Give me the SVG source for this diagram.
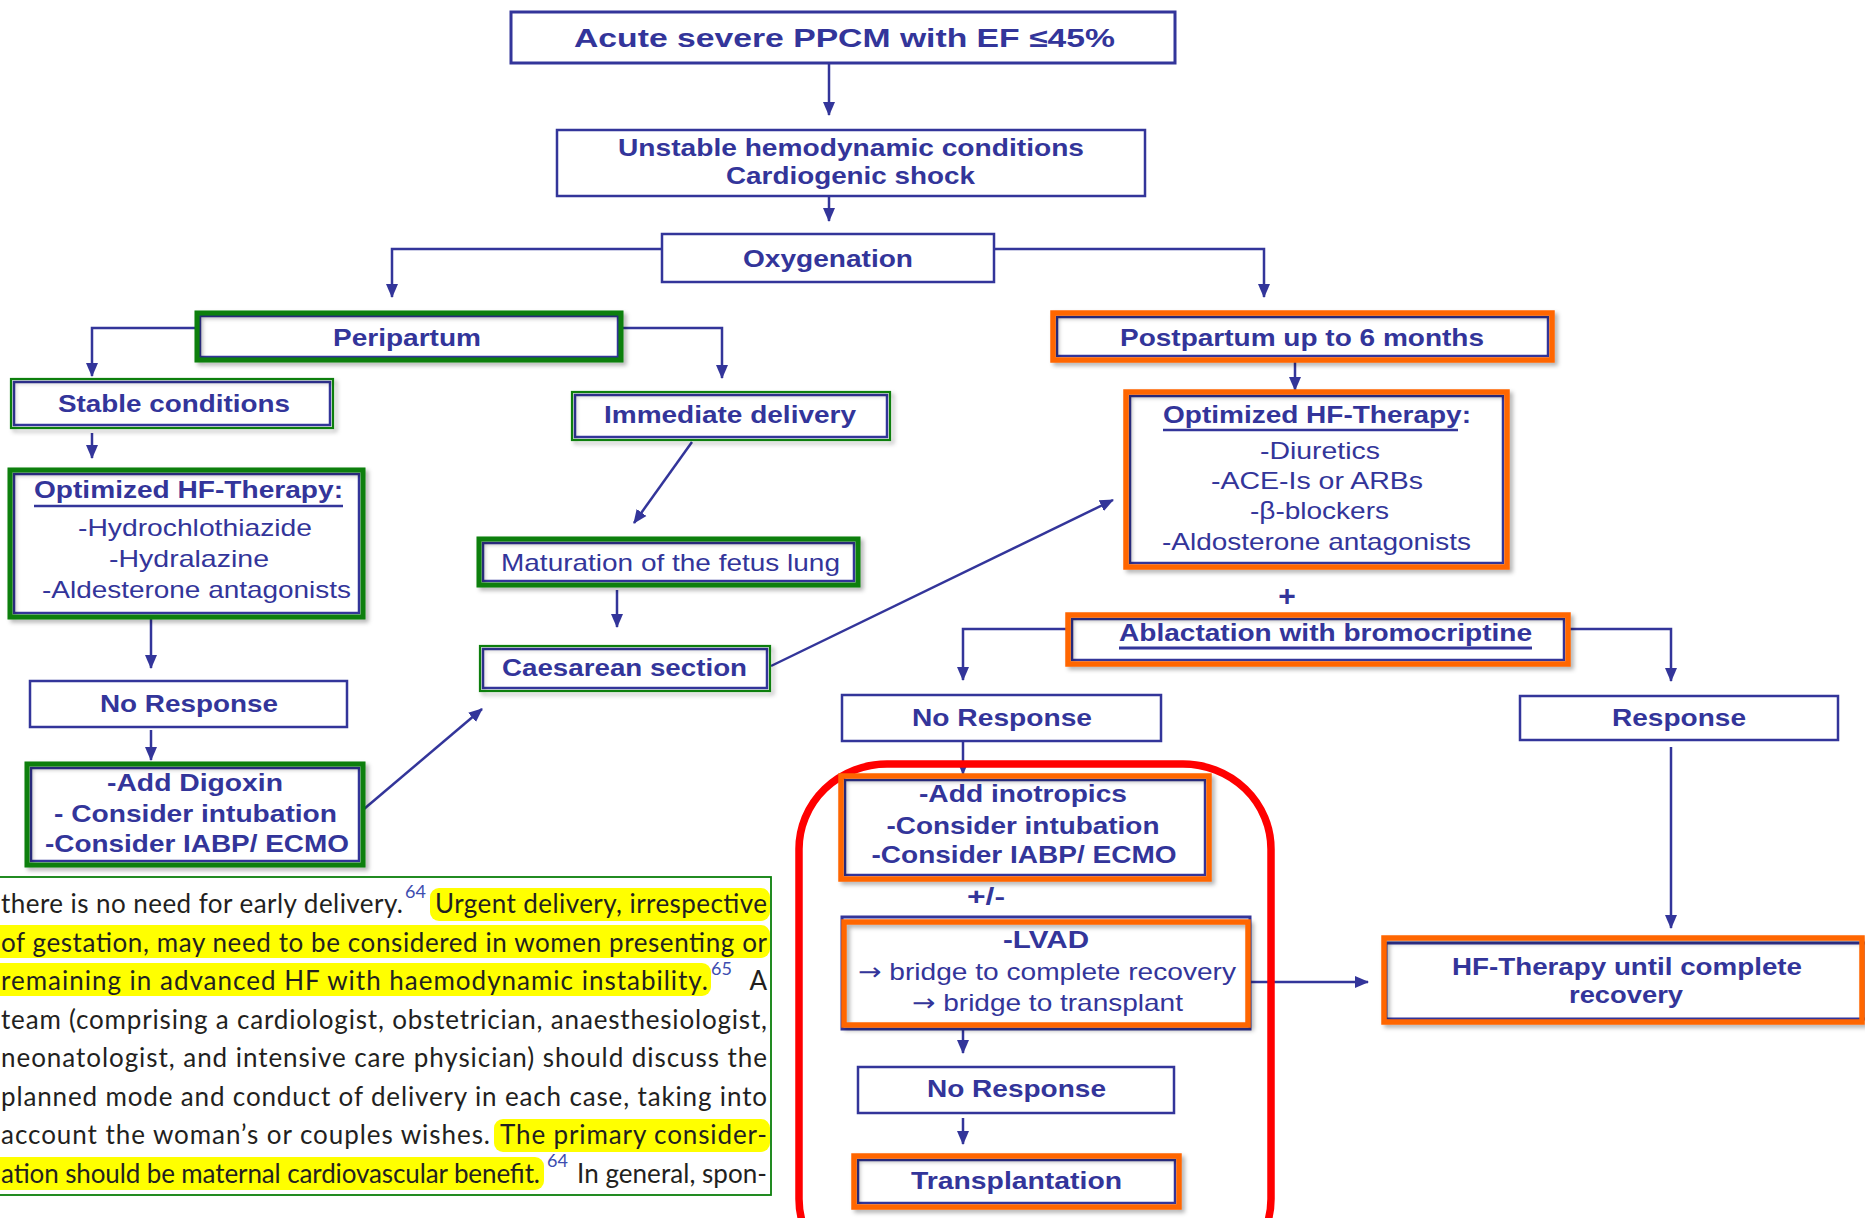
<svg xmlns="http://www.w3.org/2000/svg" width="1865" height="1218" viewBox="0 0 1865 1218">
<defs>
<marker id="ah" markerUnits="userSpaceOnUse" markerWidth="14" markerHeight="14" refX="13" refY="7" orient="auto">
<path d="M0,1 L14,7 L0,13 z" fill="#33359A"/>
</marker>
<filter id="sh" x="-5%" y="-10%" width="115%" height="130%">
<feDropShadow dx="3" dy="3" stdDeviation="2" flood-color="#000" flood-opacity="0.3"/>
</filter>
<style>
.b{fill:#fff;stroke:#33359A;stroke-width:2.5}
.g{fill:none;stroke:#0A7F0A;stroke-width:5}
.gt{fill:none;stroke:#0A7F0A;stroke-width:2.2}
.o{fill:none;stroke:#FF6600;stroke-width:5.5}
.c{fill:none;stroke:#33359A;stroke-width:2.5;marker-end:url(#ah)}
.ul{stroke:#33359A;stroke-width:2.5}
.t{font-family:"Liberation Sans",Arial,sans-serif;font-weight:bold;font-size:24px;fill:#33359A;text-anchor:middle}
.n{font-weight:normal}
.ar{font-family:"DejaVu Sans",sans-serif;font-size:24px}
.p{font-family:Lato,"Open Sans",sans-serif;font-size:26px;fill:#231F20}
.s{font-family:Lato,"Open Sans",sans-serif;font-size:18px;fill:#3D4DB0}
.hl{fill:#FFFF00}
</style>
</defs>
<rect width="1865" height="1218" fill="#fff"/>

<g id="connectors">
<path class="c" d="M829,63 V115"/>
<path class="c" d="M829,196 V221"/>
<path class="c" d="M662,249 H392 V297"/>
<path class="c" d="M994,249 H1264 V297"/>
<path class="c" d="M196,328 H92 V376"/>
<path class="c" d="M621,328 H722 V378"/>
<path class="c" d="M92,433 V458"/>
<path class="c" d="M151,617 V668"/>
<path class="c" d="M151,730 V760"/>
<path class="c" d="M364,809 L482,709"/>
<path class="c" d="M692,442 L634,523"/>
<path class="c" d="M617,590 V627"/>
<path class="c" d="M771,666 L1113,500"/>
<path class="c" d="M1295,361 V390"/>
<path class="c" d="M1068,629 H963 V680"/>
<path class="c" d="M1568,629 H1671 V681"/>
<path class="c" d="M963,742 V774"/>
<path class="c" d="M963,1025 V1053"/>
<path class="c" d="M963,1118 V1144"/>
<path class="c" d="M1249,982 H1368"/>
<path class="c" d="M1671,747 V928"/>
</g>

<g id="highlight-region">
<rect x="799" y="764" width="472" height="520" rx="88" ry="85" fill="none" stroke="#FF0000" stroke-width="7.5"/>
</g>

<g id="n-title">
<rect class="b" x="511" y="12" width="664" height="51" style="stroke-width:3"/>
<text class="t" x="844.5" y="47" style="font-size:26px" textLength="541" lengthAdjust="spacingAndGlyphs">Acute severe PPCM with EF ≤45%</text>
</g>
<g id="n-unstable">
<rect class="b" x="557" y="130" width="588" height="66"/>
<text class="t" x="851" y="156" textLength="466" lengthAdjust="spacingAndGlyphs">Unstable hemodynamic conditions</text>
<text class="t" x="850.5" y="184" textLength="249" lengthAdjust="spacingAndGlyphs">Cardiogenic shock</text>
</g>
<g id="n-oxygenation">
<rect class="b" x="662" y="234" width="332" height="48"/>
<text class="t" x="828" y="267" textLength="170" lengthAdjust="spacingAndGlyphs">Oxygenation</text>
</g>

<g id="n-peripartum">
<rect class="b" x="200" y="316" width="418" height="41"/>
<rect class="g" x="197" y="313" width="424" height="47" filter="url(#sh)"/>
<text class="t" x="407" y="346" textLength="148" lengthAdjust="spacingAndGlyphs">Peripartum</text>
</g>
<g id="n-stable">
<rect class="b" x="14" y="382" width="316" height="43"/>
<rect class="gt" x="11" y="379" width="322" height="49" filter="url(#sh)"/>
<text class="t" x="174" y="412" textLength="232" lengthAdjust="spacingAndGlyphs">Stable conditions</text>
</g>
<g id="n-hf-left">
<rect class="b" x="14" y="474" width="345" height="139"/>
<rect class="g" x="10" y="470" width="353" height="147" filter="url(#sh)"/>
<text class="t" x="188.5" y="498" textLength="309" lengthAdjust="spacingAndGlyphs">Optimized HF-Therapy:</text>
<line class="ul" x1="34" y1="506" x2="343" y2="506"/>
<text class="t n" x="195" y="536" textLength="234" lengthAdjust="spacingAndGlyphs">-Hydrochlothiazide</text>
<text class="t n" x="189" y="567" textLength="160" lengthAdjust="spacingAndGlyphs">-Hydralazine</text>
<text class="t n" x="196.5" y="598" textLength="309" lengthAdjust="spacingAndGlyphs">-Aldesterone antagonists</text>
</g>
<g id="n-noresp-left">
<rect class="b" x="30" y="681" width="317" height="46"/>
<text class="t" x="189" y="712" textLength="178" lengthAdjust="spacingAndGlyphs">No Response</text>
</g>
<g id="n-digoxin">
<rect class="b" x="31" y="768" width="328" height="93"/>
<rect class="g" x="27" y="764" width="336" height="101" filter="url(#sh)"/>
<text class="t" x="195" y="791" textLength="176" lengthAdjust="spacingAndGlyphs">-Add Digoxin</text>
<text class="t" x="195.5" y="822" textLength="283" lengthAdjust="spacingAndGlyphs">- Consider intubation</text>
<text class="t" x="197" y="852" textLength="304" lengthAdjust="spacingAndGlyphs">-Consider IABP/ ECMO</text>
</g>
<g id="n-immediate">
<rect class="b" x="575" y="395" width="312" height="42"/>
<rect class="gt" x="572" y="392" width="318" height="48" filter="url(#sh)"/>
<text class="t" x="730" y="423" textLength="252" lengthAdjust="spacingAndGlyphs">Immediate delivery</text>
</g>
<g id="n-maturation">
<rect class="b" x="483" y="543" width="371" height="38"/>
<rect class="g" x="479" y="539" width="379" height="46" filter="url(#sh)"/>
<text class="t n" x="670.5" y="571" textLength="339" lengthAdjust="spacingAndGlyphs">Maturation of the fetus lung</text>
</g>
<g id="n-caesarean">
<rect class="b" x="483" y="649" width="284" height="39"/>
<rect class="gt" x="480" y="646" width="290" height="45" filter="url(#sh)"/>
<text class="t" x="624.5" y="676" textLength="245" lengthAdjust="spacingAndGlyphs">Caesarean section</text>
</g>

<g id="n-postpartum">
<rect class="b" x="1057" y="317" width="491" height="39"/>
<rect class="o" x="1053" y="313" width="499" height="47" filter="url(#sh)"/>
<text class="t" x="1302" y="346" textLength="364" lengthAdjust="spacingAndGlyphs">Postpartum up to 6 months</text>
</g>
<g id="n-hf-right">
<rect class="b" x="1130" y="396" width="373" height="167"/>
<rect class="o" x="1126" y="392" width="381" height="175" filter="url(#sh)"/>
<text class="t" x="1317" y="423" textLength="308" lengthAdjust="spacingAndGlyphs">Optimized HF-Therapy:</text>
<line class="ul" x1="1163" y1="430" x2="1458" y2="430"/>
<text class="t n" x="1320" y="459" textLength="120" lengthAdjust="spacingAndGlyphs">-Diuretics</text>
<text class="t n" x="1317" y="489" textLength="212" lengthAdjust="spacingAndGlyphs">-ACE-Is or ARBs</text>
<text class="t n" x="1319.5" y="519" textLength="139" lengthAdjust="spacingAndGlyphs">-β-blockers</text>
<text class="t n" x="1316.5" y="550" textLength="309" lengthAdjust="spacingAndGlyphs">-Aldosterone antagonists</text>
</g>
<g id="n-plus">
<text class="t" x="1287" y="606" style="font-size:30px">+</text>
</g>
<g id="n-ablactation">
<rect class="b" x="1072" y="619" width="492" height="41"/>
<rect class="o" x="1068" y="615" width="500" height="49" filter="url(#sh)"/>
<text class="t" x="1325.5" y="641" textLength="413" lengthAdjust="spacingAndGlyphs">Ablactation with bromocriptine</text>
<line class="ul" x1="1119" y1="648" x2="1532" y2="648" style="stroke-width:3"/>
</g>
<g id="n-noresp-mid">
<rect class="b" x="842" y="695" width="319" height="46"/>
<text class="t" x="1002" y="726" textLength="180" lengthAdjust="spacingAndGlyphs">No Response</text>
</g>
<g id="n-response">
<rect class="b" x="1520" y="696" width="318" height="44"/>
<text class="t" x="1679" y="726" textLength="134" lengthAdjust="spacingAndGlyphs">Response</text>
</g>
<g id="n-inotropics">
<rect class="b" x="845" y="780" width="360" height="95"/>
<rect class="o" x="841" y="776" width="368" height="103" filter="url(#sh)"/>
<text class="t" x="1023" y="802" textLength="208" lengthAdjust="spacingAndGlyphs">-Add inotropics</text>
<text class="t" x="1023" y="834" textLength="273" lengthAdjust="spacingAndGlyphs">-Consider intubation</text>
<text class="t" x="1024" y="863" textLength="305" lengthAdjust="spacingAndGlyphs">-Consider IABP/ ECMO</text>
</g>
<g id="n-plusminus">
<text class="t" x="986" y="905" textLength="38" lengthAdjust="spacingAndGlyphs">+/-</text>
</g>
<g id="n-lvad">
<rect class="b" x="842" y="917" width="408" height="112" style="stroke-width:3"/>
<rect class="o" x="844" y="922" width="404" height="103" filter="url(#sh)"/>
<text class="t" x="1046" y="948" textLength="86" lengthAdjust="spacingAndGlyphs">-LVAD</text>
<text class="t n" x="1047" y="980" textLength="378" lengthAdjust="spacingAndGlyphs"><tspan class="ar">→</tspan> bridge to complete recovery</text>
<text class="t n" x="1047.5" y="1011" textLength="271" lengthAdjust="spacingAndGlyphs"><tspan class="ar">→</tspan> bridge to transplant</text>
</g>
<g id="n-hf-recovery">
<rect class="b" x="1386" y="943" width="480" height="76" style="stroke-width:3"/>
<rect class="o" x="1384" y="938" width="478" height="84" filter="url(#sh)"/>
<text class="t" x="1627" y="975" textLength="350" lengthAdjust="spacingAndGlyphs">HF-Therapy until complete</text>
<text class="t" x="1626" y="1003" textLength="114" lengthAdjust="spacingAndGlyphs">recovery</text>
</g>
<g id="n-noresp-bottom">
<rect class="b" x="858" y="1067" width="316" height="46"/>
<text class="t" x="1016.5" y="1097" textLength="179" lengthAdjust="spacingAndGlyphs">No Response</text>
</g>
<g id="n-transplantation">
<rect class="b" x="858" y="1160" width="317" height="43"/>
<rect class="o" x="854" y="1156" width="325" height="51" filter="url(#sh)"/>
<text class="t" x="1016.5" y="1189" textLength="211" lengthAdjust="spacingAndGlyphs">Transplantation</text>
</g>

<g id="text-excerpt">
<rect x="-2" y="877" width="773" height="318" fill="#fff" stroke="#0A7F0A" stroke-width="1.8"/>
<rect class="hl" x="430" y="888" width="340" height="33" rx="9"/>
<rect class="hl" x="-10" y="925" width="780" height="33" rx="9"/>
<rect class="hl" x="-10" y="963" width="721" height="33" rx="9"/>
<rect class="hl" x="494" y="1119" width="276" height="33" rx="9"/>
<rect class="hl" x="-10" y="1157" width="554" height="33" rx="9"/>
<text class="p" x="1" y="913" textLength="402" lengthAdjust="spacing">there is no need for early delivery.</text>
<text class="s" x="405" y="898">64</text>
<text class="p" x="435" y="913" textLength="332" lengthAdjust="spacing">Urgent delivery, irrespective</text>
<text class="p" x="1" y="951.5" textLength="766" lengthAdjust="spacing">of gestation, may need to be considered in women presenting or</text>
<text class="p" x="1" y="990" textLength="707" lengthAdjust="spacing">remaining in advanced HF with haemodynamic instability.</text>
<text class="s" x="711" y="975">65</text>
<text class="p" x="767" y="990" text-anchor="end">A</text>
<text class="p" x="1" y="1028.5" textLength="766" lengthAdjust="spacing">team (comprising a cardiologist, obstetrician, anaesthesiologist,</text>
<text class="p" x="1" y="1067" textLength="766" lengthAdjust="spacing">neonatologist, and intensive care physician) should discuss the</text>
<text class="p" x="1" y="1105.5" textLength="766" lengthAdjust="spacing">planned mode and conduct of delivery in each case, taking into</text>
<text class="p" x="1" y="1144" textLength="489" lengthAdjust="spacing">account the woman’s or couples wishes.</text>
<text class="p" x="500" y="1144" textLength="267" lengthAdjust="spacing">The primary consider-</text>
<text class="p" x="1" y="1182.5" textLength="539" lengthAdjust="spacing">ation should be maternal cardiovascular benefit.</text>
<text class="s" x="547" y="1167">64</text>
<text class="p" x="577" y="1182.5" textLength="190" lengthAdjust="spacing">In general, spon-</text>
</g>
</svg>
